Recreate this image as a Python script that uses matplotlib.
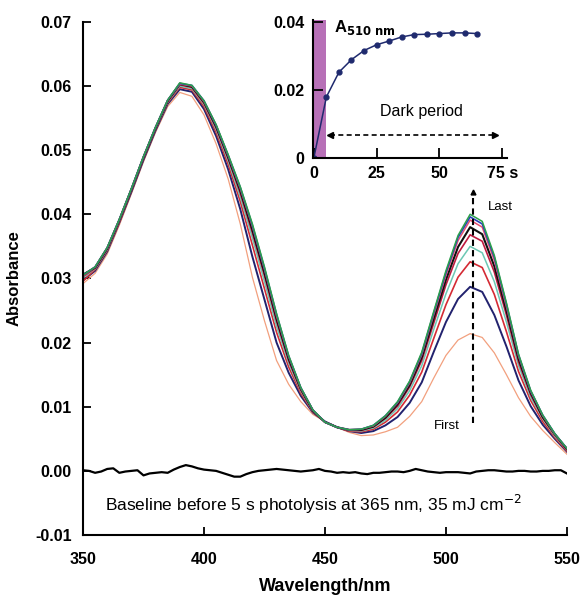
import numpy as np
import matplotlib
matplotlib.use("Agg")
import matplotlib.pyplot as plt

plt.rcParams['font.family'] = ['Liberation Sans', 'DejaVu Sans']

# wavelength grid (nm) for the spectra
wl = np.arange(350, 551, 5)

# spectra, first -> last after photolysis
first = [0.0292, 0.0308, 0.0338, 0.0383, 0.0432, 0.0482, 0.0528, 0.0568, 0.0590, 0.0584,
         0.0555, 0.0510, 0.0455, 0.0385, 0.0302, 0.0234, 0.0172, 0.0135, 0.0108, 0.0088,
         0.0077, 0.0068, 0.0060, 0.0055, 0.0056, 0.0061, 0.0068, 0.0085, 0.0108, 0.0145,
         0.0180, 0.0204, 0.0214, 0.0208, 0.0184, 0.0150, 0.0114, 0.0085, 0.0063, 0.0044, 0.0026]
navy = [0.0297, 0.0312, 0.0342, 0.0387, 0.0435, 0.0485, 0.0531, 0.0572, 0.0595, 0.0591,
        0.0564, 0.0522, 0.0470, 0.0408, 0.0334, 0.0267, 0.0200, 0.0153, 0.0117, 0.0091,
        0.0077, 0.0068, 0.0062, 0.0059, 0.0062, 0.0071, 0.0084, 0.0106, 0.0138, 0.0186,
        0.0232, 0.0268, 0.0287, 0.0279, 0.0243, 0.0194, 0.0141, 0.0101, 0.0072, 0.0050, 0.0030]
red = [0.0296, 0.0314, 0.0344, 0.0388, 0.0437, 0.0487, 0.0533, 0.0574, 0.0598, 0.0594,
       0.0568, 0.0528, 0.0478, 0.0420, 0.0352, 0.0284, 0.0216, 0.0162, 0.0121, 0.0092,
       0.0076, 0.0068, 0.0062, 0.0061, 0.0065, 0.0076, 0.0092, 0.0118, 0.0154, 0.0207,
       0.0259, 0.0302, 0.0326, 0.0317, 0.0275, 0.0217, 0.0155, 0.0110, 0.0077, 0.0052, 0.0031]
teal = [0.0301, 0.0315, 0.0345, 0.0390, 0.0438, 0.0488, 0.0534, 0.0575, 0.0600, 0.0596,
        0.0571, 0.0532, 0.0483, 0.0427, 0.0363, 0.0295, 0.0225, 0.0168, 0.0124, 0.0093,
        0.0076, 0.0068, 0.0063, 0.0062, 0.0067, 0.0079, 0.0097, 0.0125, 0.0164, 0.0221,
        0.0276, 0.0323, 0.0350, 0.0340, 0.0295, 0.0232, 0.0164, 0.0115, 0.0081, 0.0054, 0.0033]
crimson = [0.0303, 0.0316, 0.0346, 0.0391, 0.0439, 0.0489, 0.0535, 0.0576, 0.0602, 0.0598,
           0.0573, 0.0535, 0.0487, 0.0433, 0.0371, 0.0304, 0.0233, 0.0172, 0.0126, 0.0094,
           0.0076, 0.0068, 0.0063, 0.0063, 0.0069, 0.0082, 0.0101, 0.0131, 0.0172, 0.0231,
           0.0290, 0.0339, 0.0368, 0.0358, 0.0310, 0.0243, 0.0170, 0.0119, 0.0083, 0.0056, 0.0034]
black = [0.0306, 0.0317, 0.0347, 0.0391, 0.0439, 0.0489, 0.0535, 0.0577, 0.0603, 0.0599,
         0.0575, 0.0537, 0.0489, 0.0437, 0.0376, 0.0309, 0.0237, 0.0175, 0.0128, 0.0094,
         0.0076, 0.0068, 0.0064, 0.0064, 0.0069, 0.0083, 0.0104, 0.0134, 0.0177, 0.0238,
         0.0298, 0.0349, 0.0380, 0.0369, 0.0319, 0.0250, 0.0175, 0.0122, 0.0084, 0.0057, 0.0034]
pink = [0.0304, 0.0318, 0.0348, 0.0392, 0.0440, 0.0490, 0.0536, 0.0578, 0.0603, 0.0600,
        0.0576, 0.0539, 0.0491, 0.0440, 0.0381, 0.0314, 0.0241, 0.0178, 0.0129, 0.0095,
        0.0076, 0.0068, 0.0064, 0.0065, 0.0070, 0.0085, 0.0106, 0.0137, 0.0181, 0.0244,
        0.0305, 0.0359, 0.0391, 0.0380, 0.0328, 0.0256, 0.0179, 0.0124, 0.0086, 0.0057, 0.0035]
blue = [0.0305, 0.0318, 0.0348, 0.0392, 0.0440, 0.0490, 0.0536, 0.0578, 0.0604, 0.0601,
        0.0577, 0.0539, 0.0492, 0.0442, 0.0383, 0.0316, 0.0244, 0.0179, 0.0130, 0.0095,
        0.0076, 0.0068, 0.0064, 0.0065, 0.0071, 0.0086, 0.0107, 0.0139, 0.0183, 0.0247,
        0.0309, 0.0364, 0.0396, 0.0385, 0.0333, 0.0260, 0.0181, 0.0125, 0.0087, 0.0058, 0.0035]
last = [0.0305, 0.0318, 0.0348, 0.0392, 0.0440, 0.0490, 0.0536, 0.0578, 0.0605, 0.0601,
        0.0577, 0.0540, 0.0493, 0.0443, 0.0385, 0.0318, 0.0245, 0.0180, 0.0130, 0.0095,
        0.0076, 0.0068, 0.0064, 0.0065, 0.0071, 0.0086, 0.0108, 0.0140, 0.0185, 0.0249,
        0.0312, 0.0367, 0.0400, 0.0389, 0.0336, 0.0262, 0.0182, 0.0126, 0.0087, 0.0058, 0.0035]

spectra = [first, navy, red, teal, crimson, black, pink, blue, last]
colors = ['#f2a07e', '#22226e', '#d42a34', '#6cc8b4', '#c01a40', '#101010', '#e8506e', '#2a40b8', '#2ca04a']
widths = [0.9, 1.4, 1.2, 1.1, 1.2, 1.5, 1.1, 1.2, 1.1]

# baseline before photolysis
base_wl = np.arange(350, 550.1, 2.5)
baseline = [0.0001, 0.0000, -0.0003, -0.0001, 0.0003, 0.0004, -0.0003, -0.0001, 0.0000, 0.0001,
            -0.0007, -0.0004, -0.0003, -0.0002, -0.0003, 0.0002, 0.0006, 0.0009, 0.0007, 0.0004,
            0.0002, 0.0001, 0.0000, -0.0003, -0.0006, -0.0009, -0.0009, -0.0005, -0.0002, 0.0000,
            0.0001, 0.0002, 0.0003, 0.0002, 0.0001, 0.0000, -0.0001, 0.0000, 0.0001, 0.0003,
            0.0000, -0.0001, -0.0003, -0.0002, -0.0003, -0.0002, -0.0004, -0.0005, -0.0003, -0.0003,
            -0.0002, -0.0001, -0.0001, -0.0002, 0.0000, 0.0003, 0.0001, -0.0001, -0.0002, -0.0003,
            -0.0002, -0.0002, -0.0002, -0.0003, -0.0004, -0.0001, 0.0000, 0.0001, 0.0001, 0.0000,
            -0.0001, -0.0001, 0.0000, 0.0000, -0.0001, -0.0001, 0.0000, 0.0000, 0.0001, 0.0001, -0.0004]

# inset: A510 vs time
t_s = [0, 5, 10, 15, 20, 25, 30, 35, 40, 45, 50, 55, 60, 65]
a510 = [0.0, 0.0180, 0.0253, 0.0290, 0.0317, 0.0334, 0.0345, 0.0357, 0.0364, 0.0365,
        0.0367, 0.0369, 0.0369, 0.0367]

fig = plt.figure(figsize=(5.83, 5.96), dpi=100)
ax = fig.add_axes([0.1424, 0.1023, 0.830, 0.861])

for y, c, lw in zip(spectra, colors, widths):
    ax.plot(wl, y, color=c, lw=lw)
ax.plot(base_wl, baseline, color='black', lw=1.6)

# dashed arrow at band maximum
arrow_x = 511
ax.plot([arrow_x, arrow_x], [0.0075, 0.0433], 'k--', lw=1.5, dashes=(3, 2))
ax.plot([arrow_x], [0.0434], marker='^', color='black', ms=3.5)
ax.text(517.5, 0.0411, 'Last', fontsize=9.5, va='center')
ax.text(495, 0.0070, 'First', fontsize=9.5, va='center')
ax.text(359, -0.0052, 'Baseline before 5 s photolysis at 365 nm, 35 mJ cm$^{-2}$',
        fontsize=12.5, va='center')

ax.set_xlim(350, 550)
ax.set_ylim(-0.01, 0.07)
ax.set_xticks([350, 400, 450, 500, 550])
ax.set_yticks(np.arange(-0.01, 0.071, 0.01))
ax.set_yticklabels(['-0.01', '0.00', '0.01', '0.02', '0.03', '0.04', '0.05', '0.06', '0.07'])
ax.spines['top'].set_visible(False)
ax.spines['right'].set_visible(False)
for s in ['left', 'bottom']:
    ax.spines[s].set_linewidth(1.5)
ax.tick_params(direction='in', length=6, width=1.3, labelsize=11.5, pad=8)
ax.tick_params(axis='x', pad=12)
for lab in ax.get_xticklabels() + ax.get_yticklabels():
    lab.set_fontweight('bold')
ax.set_xlabel('Wavelength/nm', fontsize=13, fontweight='bold', labelpad=8)
ax.set_ylabel('Absorbance', fontsize=12, fontweight='bold', labelpad=10)

# inset
ins = fig.add_axes([0.537, 0.735, 0.333, 0.232])
ins.axvspan(0, 5, color='#b060b0', alpha=0.9, lw=0)
ins.plot(t_s, a510, color='#1f2a6e', lw=1.1, marker='o', ms=3.5)
ins.plot([6.3, 72], [0.0068, 0.0068], 'k--', lw=1.2, dashes=(3, 2))
ins.plot([6.3], [0.0068], marker='<', color='black', ms=5)
ins.plot([72], [0.0068], marker='>', color='black', ms=5)
ins.text(43, 0.0115, 'Dark period', fontsize=11.5, ha='center', va='bottom')
ins.text(8, 0.0385, 'A$_{\\mathbf{510\\ nm}}$', fontsize=12, fontweight='bold', va='center')
ins.set_xlim(-0.3, 77)
ins.set_ylim(0, 0.0408)
ins.set_xticks([0, 25, 50, 75])
ins.set_xticklabels(['0', '25', '50', '75 s'])
ins.set_yticks([0, 0.02, 0.04])
ins.set_yticklabels(['0', '0.02', '0.04'])
ins.spines['top'].set_visible(False)
ins.spines['right'].set_visible(False)
for s in ['left', 'bottom']:
    ins.spines[s].set_linewidth(1.5)
ins.tick_params(direction='in', length=7, width=1.3, labelsize=11.5, pad=6)
for lab in ins.get_xticklabels() + ins.get_yticklabels():
    lab.set_fontweight('bold')
ins.patch.set_alpha(0)

fig.savefig('out.png', dpi=100)
